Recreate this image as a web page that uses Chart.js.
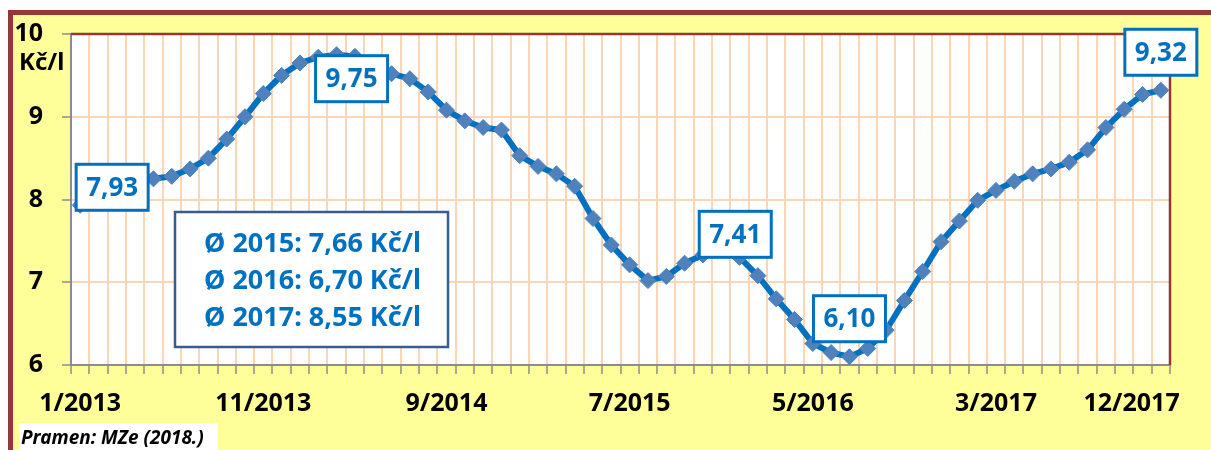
<!DOCTYPE html>
<html><head><meta charset="utf-8">
<script src="https://cdn.jsdelivr.net/npm/chart.js@4/dist/chart.umd.min.js"></script>
<style>html,body{margin:0;padding:0;background:#fff;overflow:hidden}</style>
</head><body>
<canvas id="c" width="1211" height="450"></canvas>
<script>
// ---------- data ----------
const years = [2013, 2014, 2015, 2016, 2017];
const categories = [];
for (const y of years) for (let m = 1; m <= 12; m++) categories.push(m + '/' + y);

const prices2013 = [7.93, 8.05, 8.15, 8.22, 8.25, 8.28, 8.37, 8.50, 8.73, 9.00, 9.28, 9.50];
const prices2014 = [9.65, 9.72, 9.75, 9.73, 9.62, 9.52, 9.46, 9.30, 9.08, 8.95, 8.87, 8.84];
const prices2015 = [8.53, 8.40, 8.31, 8.16, 7.77, 7.45, 7.21, 7.02, 7.07, 7.23, 7.33, 7.41];
const prices2016 = [7.30, 7.08, 6.80, 6.55, 6.26, 6.15, 6.10, 6.20, 6.42, 6.78, 7.13, 7.49];
const prices2017 = [7.74, 7.99, 8.11, 8.22, 8.31, 8.37, 8.45, 8.60, 8.87, 9.09, 9.27, 9.32];
const prices = [...prices2013, ...prices2014, ...prices2015, ...prices2016, ...prices2017];

const shownTicks = ['1/2013', '11/2013', '9/2014', '7/2015', '5/2016', '3/2017', '12/2017'];
const yTicks = [6, 7, 8, 9, 10];
const calloutIndex = [0, 14, 35, 42, 59];
const averageLines = ['Ø 2015: 7,66 Kč/l', 'Ø 2016: 6,70 Kč/l', 'Ø 2017: 8,55 Kč/l'];
const unitLabel = 'Kč/l';
const sourceNote = 'Pramen: MZe (2018.)';

// ---------- style ----------
const FONT = '"Noto Sans", "Open Sans", sans-serif';
const BLUE = '#0070C0';
const calloutOffset = [[32, -18], [15, 24], [14, -14], [0, -38], [0, -38]];

const framePlugin = {
  id: 'frame',
  beforeDraw(chart) {
    const ctx = chart.ctx, a = chart.chartArea;
    ctx.save();
    ctx.fillStyle = '#ffffff';
    ctx.fillRect(0, 0, chart.width, chart.height);
    ctx.fillStyle = '#FFFF99';
    ctx.fillRect(10, 12, chart.width, chart.height);
    ctx.strokeStyle = '#953735';
    ctx.lineWidth = 5;
    ctx.beginPath();
    ctx.moveTo(10.5, chart.height + 5);
    ctx.lineTo(10.5, 12.5);
    ctx.lineTo(chart.width + 5, 12.5);
    ctx.stroke();
    ctx.fillStyle = '#ffffff';
    ctx.fillRect(a.left, a.top, a.right - a.left, a.bottom - a.top);
    ctx.restore();
  },
  beforeDatasetsDraw(chart) {
    const ctx = chart.ctx, a = chart.chartArea;
    ctx.save();
    ctx.strokeStyle = '#953735';
    ctx.lineWidth = 2.5;
    ctx.beginPath();
    ctx.moveTo(a.left, a.top);
    ctx.lineTo(a.right, a.top);
    ctx.lineTo(a.right, a.bottom);
    ctx.stroke();
    ctx.restore();
  },
  afterDatasetsDraw(chart) {
    const ctx = chart.ctx;
    const meta = chart.getDatasetMeta(0);
    ctx.save();
    calloutIndex.forEach((idx, k) => {
      const p = meta.data[idx];
      const cx = p.x + calloutOffset[k][0], cy = p.y + calloutOffset[k][1];
      const w = 72, h = 46;
      ctx.fillStyle = '#ffffff';
      ctx.fillRect(cx - w / 2, cy - h / 2, w, h);
      ctx.strokeStyle = BLUE;
      ctx.lineWidth = 3;
      ctx.strokeRect(cx - w / 2, cy - h / 2, w, h);
      ctx.fillStyle = BLUE;
      ctx.font = 'bold 26px ' + FONT;
      ctx.textAlign = 'center';
      ctx.textBaseline = 'middle';
      ctx.fillText(prices[idx].toFixed(2).replace('.', ','), cx, cy + 1);
    });
    const bx = 175, by = 212, bw = 273, bh = 135;
    ctx.fillStyle = '#ffffff';
    ctx.fillRect(bx, by, bw, bh);
    ctx.strokeStyle = '#385D8A';
    ctx.lineWidth = 2.5;
    ctx.strokeRect(bx, by, bw, bh);
    ctx.fillStyle = BLUE;
    ctx.font = 'bold 27px ' + FONT;
    ctx.textAlign = 'center';
    ctx.textBaseline = 'middle';
    averageLines.forEach((t, i) => ctx.fillText(t, bx + bw / 2 + 1, by + 32 + i * 37));
    ctx.restore();
  },
  afterDraw(chart) {
    const ctx = chart.ctx;
    ctx.save();
    ctx.fillStyle = '#000000';
    ctx.font = 'bold 24px ' + FONT;
    ctx.textAlign = 'left';
    ctx.textBaseline = 'middle';
    ctx.fillText(unitLabel, 19, 63);
    ctx.fillStyle = '#ffffff';
    ctx.fillRect(19, 423, 199, 27);
    ctx.fillStyle = '#000000';
    ctx.font = 'italic bold 19px ' + FONT;
    ctx.textBaseline = 'alphabetic';
    ctx.fillText(sourceNote, 21, 444);
    ctx.restore();
  }
};

new Chart(document.getElementById('c'), {
  type: 'line',
  data: {
    labels: categories,
    datasets: [{
      data: prices,
      borderColor: BLUE,
      borderWidth: 6,
      tension: 0,
      pointStyle: 'rectRot',
      pointRadius: 8,
      pointBackgroundColor: '#4F81BD',
      pointBorderColor: '#4F81BD',
      pointBorderWidth: 1,
      clip: false
    }]
  },
  options: {
    responsive: false,
    animation: false,
    devicePixelRatio: 1,
    layout: { padding: { top: 30, right: 41, left: 0, bottom: 0 } },
    plugins: { legend: { display: false }, tooltip: { enabled: false } },
    scales: {
      x: {
        type: 'category',
        offset: true,
        grid: { color: '#FCD5B4', lineWidth: 2, offset: true, tickLength: 9, tickColor: '#8C8C8C', tickWidth: 1.5 },
        border: { color: '#8C8C8C', width: 2 },
        ticks: {
          autoSkip: false,
          maxRotation: 0,
          padding: 15,
          color: '#000',
          font: { family: FONT, size: 25, weight: 'bold' },
          callback(v, i) {
            const l = categories[i];
            if (!shownTicks.includes(l)) return '';
            return i === categories.length - 1 ? l + '\u00a0'.repeat(9) : l;
          }
        },
        afterFit(s) { s.height = 85; s.paddingLeft = 0; s.paddingRight = 0; }
      },
      y: {
        min: 6, max: 10,
        afterBuildTicks(s) { s.ticks = yTicks.map(v => ({ value: v })); },
        grid: { color: '#FCD5B4', lineWidth: 2, tickLength: 9, tickColor: '#8C8C8C', tickWidth: 1.5 },
        border: { color: '#8C8C8C', width: 2 },
        ticks: {
          padding: 19,
          color: '#000',
          font: { family: FONT, size: 25, weight: 'bold' },
          callback(v) { return String(v); }
        },
        afterFit(s) { s.width = 71; }
      }
    }
  },
  plugins: [framePlugin]
});
</script>
</body></html>
